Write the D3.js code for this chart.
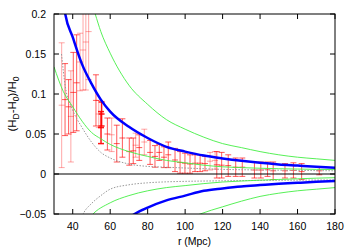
<!DOCTYPE html>
<html>
<head>
<meta charset="utf-8">
<script src="https://cdn.jsdelivr.net/npm/d3@7"></script>
<style>
  body { margin: 0; background: #fff; }
  svg { display: block; }
  text { font-family: "Liberation Sans", Arial, Helvetica, sans-serif; }
</style>
</head>
<body>
<svg width="355" height="249"></svg>
<script>
// tick labels
var xTicks = [40, 60, 80, 100, 120, 140, 160, 180];
var yTicks = [-0.05, 0, 0.05, 0.1, 0.15, 0.2];

// measured points [r, value, error]
var faintPts = [
  [34.1, 0.086, 0.078], [39.0, 0.072, 0.057], [43.9, 0.140, 0.036],
  [45.5, 0.155, 0.050], [47.0, 0.165, 0.060], [48.5, 0.178, 0.060],
  [53.9, 0.075, 0.017], [60.8, 0.049, 0.021], [73.6, 0.036, 0.015],
  [78.2, 0.040, 0.016], [113.3, 0.016, 0.011], [116.0, 0.017, 0.011]
];
var redPts = [
  [35.9, 0.093, 0.045], [37.8, 0.084, 0.034], [40.3, 0.102, 0.050],
  [42.1, 0.114, 0.060], [52.4, 0.092, 0.032], [58.5, 0.050, 0.020],
  [63.5, 0.038, 0.023], [66.5, 0.045, 0.024], [70.2, 0.028, 0.017],
  [72.3, 0.029, 0.016], [75.5, 0.033, 0.016], [81.3, 0.027, 0.015],
  [83.9, 0.022, 0.0135], [86.2, 0.027, 0.010], [88.7, 0.021, 0.013],
  [91.0, 0.024, 0.016], [94.6, 0.0175, 0.0145], [97.3, 0.0145, 0.0135],
  [99.9, 0.0135, 0.0125], [102.6, 0.0125, 0.0115], [105.3, 0.0135, 0.0105],
  [108.0, 0.0135, 0.0105], [110.6, 0.013, 0.009], [116.9, 0.0115, 0.0165],
  [119.5, 0.011, 0.016], [123.0, 0.0105, 0.0135], [127.0, 0.0085, 0.0115],
  [130.5, 0.0085, 0.0115], [137.0, 0.005, 0.010], [140.4, 0.005, 0.010],
  [144.0, 0.006, 0.009], [147.0, 0.004, 0.011], [153.3, 0.004, 0.009],
  [157.8, 0.0045, 0.0095], [162.2, 0.003, 0.010], [171.6, 0.004, 0.005]
];
var brightPts = [
  [55.1, 0.058, 0.020], [55.4, 0.075, 0.015]
];

// model curves [r, value]
var blueUp = [[35, 0.215], [36, 0.2], [40, 0.171], [45, 0.137], [50, 0.113], [55, 0.093],
  [60, 0.078], [70, 0.059], [80, 0.045], [90, 0.034], [100, 0.028], [110, 0.023],
  [120, 0.0195], [130, 0.0165], [140, 0.014], [150, 0.012], [160, 0.0105], [170, 0.009], [180, 0.0079]];
var blueLo = [[68, -0.058], [73, -0.05], [80, -0.042], [90, -0.033], [100, -0.027], [110, -0.021],
  [120, -0.018], [130, -0.0155], [140, -0.0138], [150, -0.0122], [160, -0.011], [170, -0.0098], [180, -0.0088]];
var greenOutUp = [[50, 0.215], [52, 0.2], [55, 0.178], [60, 0.151], [70, 0.111], [80, 0.087],
  [90, 0.068], [100, 0.056], [110, 0.046], [120, 0.038], [130, 0.033], [140, 0.028],
  [150, 0.024], [160, 0.021], [170, 0.019], [180, 0.017]];
var greenInUp = [[30, 0.134], [35, 0.103], [40, 0.084], [45, 0.066], [50, 0.052], [55, 0.044],
  [60, 0.037], [70, 0.028], [80, 0.022], [90, 0.017], [100, 0.014], [110, 0.011],
  [120, 0.009], [130, 0.008], [140, 0.0072], [150, 0.0066], [160, 0.0062], [170, 0.0058], [180, 0.0055]];
var greenInLo = [[45, -0.068], [50, -0.052], [60, -0.036], [70, -0.027], [80, -0.021],
  [90, -0.017], [100, -0.0145], [110, -0.012], [120, -0.010], [130, -0.0088], [140, -0.0077],
  [150, -0.0068], [160, -0.006], [170, -0.0052], [180, -0.0046]];
var greenOutLo = [[100, -0.058], [108, -0.05], [120, -0.041], [130, -0.034], [140, -0.028],
  [150, -0.024], [160, -0.021], [170, -0.019], [180, -0.017]];
var dotUp = [[34, 0.15], [36, 0.11], [40, 0.08], [45, 0.058], [50, 0.040], [55, 0.027],
  [60, 0.020], [70, 0.0125], [80, 0.0095], [90, 0.0085], [100, 0.0075], [120, 0.0058],
  [140, 0.005], [160, 0.0045], [180, 0.004]];
var dotLo = [[44, -0.058], [46, -0.048], [50, -0.037], [55, -0.027], [60, -0.019], [70, -0.0135],
  [80, -0.011], [90, -0.0098], [100, -0.0092], [120, -0.0085], [140, -0.008], [160, -0.0077], [180, -0.0074]];

var L = 54, T = 14, R = 335, B = 214;
var svg = d3.select("svg");
var x = d3.scaleLinear().domain([30, 180]).range([L, R]);
var y = d3.scaleLinear().domain([-0.05, 0.2]).range([B, T]);

svg.append("clipPath").attr("id", "plot")
   .append("rect")
   .attr("x", L).attr("y", T)
   .attr("width", R - L).attr("height", B - T);

var g = svg.append("g").attr("clip-path", "url(#plot)");

function bars(pts, opacity, width) {
  var grp = g.append("g")
     .attr("stroke", "#ff0000")
     .attr("stroke-opacity", opacity)
     .attr("stroke-width", width)
     .attr("fill", "none");
  pts.forEach(function (d) {
    var px = x(d[0]), top = y(d[1] + d[2]), bot = y(d[1] - d[2]), c = y(d[1]);
    grp.append("line").attr("x1", px).attr("x2", px).attr("y1", top).attr("y2", bot);
    grp.append("line").attr("x1", px - 3).attr("x2", px + 3).attr("y1", top).attr("y2", top);
    grp.append("line").attr("x1", px - 3).attr("x2", px + 3).attr("y1", bot).attr("y2", bot);
    grp.append("line").attr("x1", px - 3).attr("x2", px + 3).attr("y1", c).attr("y2", c);
  });
}
bars(faintPts, 0.35, 1);
bars(redPts, 0.65, 1);
bars(brightPts, 0.9, 1.5);

// zero line
g.append("line")
   .attr("x1", L).attr("x2", R)
   .attr("y1", y(0)).attr("y2", y(0))
   .attr("stroke", "#000").attr("stroke-width", 1.2);

var line = d3.line()
   .x(function (d) { return x(d[0]); })
   .y(function (d) { return y(d[1]); })
   .curve(d3.curveMonotoneX);

function curve(data, color, width, dash) {
  g.append("path")
   .attr("d", line(data))
   .attr("fill", "none")
   .attr("stroke", color)
   .attr("stroke-width", width)
   .attr("stroke-dasharray", dash || null);
}
curve(dotUp, "#999", 1, "1.5,1.5");
curve(dotLo, "#999", 1, "1.5,1.5");
curve(greenOutUp, "#44ee44", 0.9);
curve(greenInUp, "#44ee44", 0.9);
curve(greenInLo, "#44ee44", 0.9);
curve(greenOutLo, "#44ee44", 0.9);
curve(blueUp, "#0000ff", 2.5);
curve(blueLo, "#0000ff", 2.5);

// frame and ticks
svg.append("rect")
   .attr("x", L).attr("y", T)
   .attr("width", R - L).attr("height", B - T)
   .attr("fill", "none").attr("stroke", "#000").attr("stroke-width", 1);

var tk = 5;
xTicks.forEach(function (t) {
  svg.append("line").attr("x1", x(t)).attr("x2", x(t)).attr("y1", B).attr("y2", B - tk).attr("stroke", "#000");
  svg.append("line").attr("x1", x(t)).attr("x2", x(t)).attr("y1", T).attr("y2", T + tk).attr("stroke", "#000");
  svg.append("text")
     .attr("x", x(t)).attr("y", 230)
     .attr("text-anchor", "middle")
     .attr("font-size", "10.5px")
     .text(t);
});
yTicks.forEach(function (t) {
  svg.append("line").attr("x1", L).attr("x2", L + tk).attr("y1", y(t)).attr("y2", y(t)).attr("stroke", "#000");
  svg.append("line").attr("x1", R).attr("x2", R - tk).attr("y1", y(t)).attr("y2", y(t)).attr("stroke", "#000");
  svg.append("text")
     .attr("x", 46).attr("y", y(t) + 3.8)
     .attr("text-anchor", "end")
     .attr("font-size", "10.5px")
     .text(t === 0 ? "0" : d3.format("")(t));
});

svg.append("text")
   .attr("x", (L + R) / 2).attr("y", 245)
   .attr("text-anchor", "middle")
   .attr("font-size", "10.5px")
   .text("r (Mpc)");

var yl = svg.append("text")
   .attr("transform", "translate(16,104) rotate(-90)")
   .attr("text-anchor", "middle")
   .attr("font-size", "11.5px");
yl.append("tspan").text("(H");
yl.append("tspan").attr("font-size", "8.5px").attr("dy", 2.5).text("D");
yl.append("tspan").attr("dy", -2.5).text("-H");
yl.append("tspan").attr("font-size", "8.5px").attr("dy", 2.5).text("0");
yl.append("tspan").attr("dy", -2.5).text(")/H");
yl.append("tspan").attr("font-size", "8.5px").attr("dy", 2.5).text("0");
</script>
</body>
</html>
